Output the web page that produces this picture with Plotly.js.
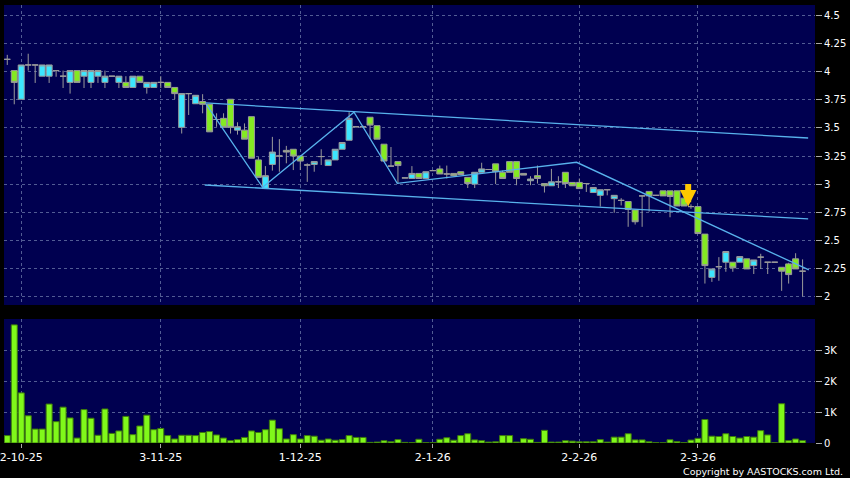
<!DOCTYPE html>
<html>
<head>
<meta charset="utf-8">
<script src="https://cdn.plot.ly/plotly-3.0.1.min.js"></script>
<style>
  html, body { margin: 0; padding: 0; background: #000000; }
  #chart { width: 850px; height: 478px; }
</style>
</head>
<body>
<div id="chart"></div>
<script>
// ---- Data ----
const tickIndex  = [2, 22, 42, 61, 82, 99];
const tickLabels = ['2-10-25', '3-11-25', '1-12-25', '2-1-26', '2-2-26', '2-3-26'];

const openP = [
  4.11, 4.01, 3.755, 4.06, 4.06, 3.96, 3.96, 4.01, 3.96, 3.905,
  4.01, 3.96, 3.905, 3.96, 3.905, 3.96, 3.905, 3.905, 3.86, 3.96,
  3.86, 3.86, 3.905, 3.905, 3.86, 3.505, 3.805, 3.715, 3.735, 3.71,
  3.575, 3.585, 3.755, 3.48, 3.48, 3.60, 3.215, 2.96, 3.175, 3.25,
  3.30, 3.31, 3.25, 3.17, 3.175, 3.245, 3.165, 3.215, 3.31, 3.39,
  3.51, 3.51, 3.595, 3.52, 3.355, 3.16, 3.20, 3.055, 3.05, 3.095,
  3.05, 3.12, 3.135, 3.09, 3.095, 3.11, 3.06, 3.0, 3.105, 3.13,
  3.18, 3.105, 3.20, 3.20, 3.095, 3.03, 3.075, 3.005, 2.985, 3.02,
  3.105, 3.015, 3.015, 3.005, 2.925, 2.90, 2.95, 2.87, 2.855, 2.845,
  2.77, 2.895, 2.935, 2.90, 2.94, 2.94, 2.94, 2.875, 2.80, 2.80,
  2.555, 2.17, 2.265, 2.305, 2.305, 2.305, 2.335, 2.275, 2.35, 2.305,
  2.305, 2.26, 2.29, 2.335, 2.225
];
const highP = [
  4.15, 4.01, 4.06, 4.16, 4.06, 4.06, 4.06, 4.01, 4.01, 4.01,
  4.01, 4.01, 4.01, 4.01, 4.01, 3.96, 3.96, 3.96, 3.96, 3.96,
  3.905, 3.905, 3.96, 3.905, 3.86, 3.805, 3.805, 3.79, 3.80, 3.71,
  3.63, 3.63, 3.755, 3.55, 3.54, 3.60, 3.24, 3.16, 3.42, 3.40,
  3.34, 3.31, 3.25, 3.185, 3.20, 3.31, 3.215, 3.31, 3.37, 3.64,
  3.51, 3.52, 3.595, 3.52, 3.355, 3.33, 3.20, 3.055, 3.16, 3.095,
  3.11, 3.12, 3.165, 3.165, 3.095, 3.11, 3.06, 3.105, 3.19, 3.13,
  3.18, 3.12, 3.20, 3.20, 3.095, 3.07, 3.165, 3.005, 3.135, 3.07,
  3.105, 3.015, 3.05, 3.005, 2.97, 2.95, 2.95, 2.90, 2.875, 2.845,
  2.77, 2.895, 2.935, 2.90, 2.94, 2.94, 2.94, 2.875, 2.82, 2.80,
  2.555, 2.245, 2.35, 2.40, 2.305, 2.355, 2.335, 2.325, 2.38, 2.305,
  2.305, 2.26, 2.30, 2.385, 2.33
];
const lowP = [
  4.06, 3.71, 3.755, 4.01, 3.90, 3.96, 3.90, 3.955, 3.855, 3.805,
  3.905, 3.855, 3.855, 3.90, 3.855, 3.96, 3.855, 3.86, 3.86, 3.905,
  3.805, 3.86, 3.855, 3.86, 3.755, 3.45, 3.615, 3.715, 3.63, 3.465,
  3.51, 3.505, 3.45, 3.44, 3.40, 3.23, 3.06, 2.96, 3.12, 3.11,
  3.185, 3.125, 3.125, 3.02, 3.11, 3.17, 3.165, 3.215, 3.31, 3.39,
  3.51, 3.50, 3.40, 3.40, 3.20, 3.16, 3.005, 3.055, 3.05, 3.05,
  3.05, 3.12, 3.09, 3.05, 3.075, 3.085, 2.965, 2.965, 3.105, 3.13,
  3.0, 3.05, 3.105, 2.99, 3.08, 2.99, 3.005, 2.925, 2.985, 2.965,
  2.965, 2.985, 2.96, 2.93, 2.925, 2.80, 2.90, 2.745, 2.81, 2.62,
  2.64, 2.62, 2.755, 2.90, 2.895, 2.705, 2.805, 2.805, 2.78, 2.56,
  2.115, 2.13, 2.14, 2.22, 2.22, 2.305, 2.245, 2.20, 2.245, 2.20,
  2.305, 2.05, 2.115, 2.245, 2.0
];
const closeP = [
  4.11, 3.905, 4.06, 4.06, 4.06, 4.06, 4.06, 4.01, 3.96, 4.01,
  3.905, 4.01, 4.01, 4.01, 3.96, 3.96, 3.96, 3.86, 3.96, 3.905,
  3.905, 3.905, 3.905, 3.86, 3.805, 3.805, 3.805, 3.79, 3.71, 3.465,
  3.575, 3.505, 3.505, 3.51, 3.40, 3.23, 3.06, 3.075, 3.285, 3.25,
  3.285, 3.25, 3.205, 3.17, 3.20, 3.245, 3.215, 3.31, 3.37, 3.585,
  3.51, 3.51, 3.525, 3.40, 3.205, 3.16, 3.165, 3.055, 3.095, 3.05,
  3.11, 3.12, 3.09, 3.09, 3.075, 3.085, 3.005, 3.105, 3.135, 3.13,
  3.11, 3.05, 3.105, 3.05, 3.08, 3.045, 3.05, 2.985, 3.02, 3.02,
  3.005, 2.985, 2.96, 3.005, 2.97, 2.95, 2.95, 2.90, 2.855, 2.775,
  2.665, 2.895, 2.895, 2.90, 2.895, 2.89, 2.805, 2.805, 2.80, 2.56,
  2.275, 2.245, 2.265, 2.40, 2.255, 2.355, 2.245, 2.325, 2.35, 2.305,
  2.305, 2.225, 2.195, 2.245, 2.225
];
const volume = [
  240, 3820, 1620, 880, 450, 450, 1260, 690, 1160, 810,
  160, 1080, 800, 250, 1100, 310, 390, 860, 270, 550,
  900, 430, 470, 240, 130, 250, 250, 240, 340, 370,
  260, 160, 75, 110, 180, 390, 340, 430, 740, 460,
  130, 270, 130, 240, 220, 90, 130, 90, 110, 240,
  180, 180, 20, 30, 75, 40, 110, 20, 10, 120,
  10, 10, 120, 170, 90, 240, 300, 100, 75, 30,
  40, 240, 240, 30, 140, 120, 20, 410, 30, 30,
  75, 60, 40, 40, 40, 110, 30, 190, 190, 300,
  100, 100, 40, 10, 5, 105, 45, 10, 95, 150,
  760, 220, 210, 300, 210, 160, 210, 190, 400, 260,
  5, 1270, 75, 130, 75
];

// trend lines (x in trading-day positions, y in price)
const channelTopX = [28.4, 114.8];
const channelTopY = [3.722, 3.410];
const channelLowX = [28.3, 114.8];
const channelLowY = [2.992, 2.690];
const zigzagX = [28.5, 36.6, 49.7, 55.9, 81.6, 114.9];
const zigzagY = [3.712, 2.971, 3.639, 3.007, 3.194, 2.236];

const priceTicks = [2, 2.25, 2.5, 2.75, 3, 3.25, 3.5, 3.75, 4, 4.25, 4.5];
const priceTickText = ['2', '2.25', '2.5', '2.75', '3', '3.25', '3.5', '3.75', '4', '4.25', '4.5'];
const volTicks = [0, 1000, 2000, 3000];
const volTickText = ['0', '1K', '2K', '3K'];

const signalIndex = 97.6;
const signalPrice = 2.80;

// ---- Chart ----
const xs = openP.map((_, i) => i);
const FONT = 'DejaVu Sans, Verdana, sans-serif';
const GRID = '#525c94';
const LINE_BLUE = '#58b2ec';

const traces = [
  {
    type: 'candlestick', x: xs, open: openP, high: highP, low: lowP, close: closeP,
    xaxis: 'x', yaxis: 'y',
    increasing: { line: { color: '#9a9a9a', width: 1 }, fillcolor: '#3ce6ff' },
    decreasing: { line: { color: '#9a9a9a', width: 1 }, fillcolor: '#84ea22' },
    whiskerwidth: 0, hoverinfo: 'skip', showlegend: false
  },
  {
    type: 'scatter', mode: 'lines', x: channelTopX, y: channelTopY, xaxis: 'x', yaxis: 'y',
    line: { color: LINE_BLUE, width: 1.3 }, hoverinfo: 'skip', showlegend: false
  },
  {
    type: 'scatter', mode: 'lines', x: channelLowX, y: channelLowY, xaxis: 'x', yaxis: 'y',
    line: { color: LINE_BLUE, width: 1.3 }, hoverinfo: 'skip', showlegend: false
  },
  {
    type: 'scatter', mode: 'lines', x: zigzagX, y: zigzagY, xaxis: 'x', yaxis: 'y',
    line: { color: LINE_BLUE, width: 1.3 }, hoverinfo: 'skip', showlegend: false
  },
  {
    type: 'bar', x: xs, y: volume, xaxis: 'x', yaxis: 'y2',
    marker: { color: '#80f81a', line: { color: '#3d7a0c', width: 1 } },
    hoverinfo: 'skip', showlegend: false
  }
];

const layout = {
  width: 850, height: 478,
  margin: { l: 4, r: 35, t: 5, b: 35, pad: 0 },
  paper_bgcolor: '#000000',
  plot_bgcolor: '#000050',
  showlegend: false,
  boxgap: 0.14,
  boxgroupgap: 0,
  bargap: 0.14,
  font: { family: FONT, color: '#ffffff', size: 11 },
  xaxis: {
    anchor: 'y2', range: [-0.47, 115.78],
    tickmode: 'array', tickvals: tickIndex, ticktext: tickLabels,
    ticks: 'outside', ticklen: 4, tickcolor: '#aaaaaa', tickwidth: 1,
    tickfont: { family: FONT, size: 11, color: '#ffffff' },
    ticklabeloverflow: 'allow',
    showgrid: true, gridcolor: GRID, griddash: '3px,3px', gridwidth: 1,
    zeroline: false, showline: false,
    rangeslider: { visible: false }, fixedrange: true
  },
  yaxis: {
    domain: [0.3151, 1], side: 'right', range: [1.9244, 4.5935],
    tickmode: 'array', tickvals: priceTicks, ticktext: priceTickText,
    ticks: 'outside', ticklen: 6, tickcolor: '#aaaaaa',
    tickfont: { family: FONT, size: 10, color: '#ffffff' },
    showgrid: true, gridcolor: GRID, griddash: '3px,3px',
    zeroline: false, showline: false, fixedrange: true
  },
  yaxis2: {
    domain: [0, 0.2831], side: 'right', range: [0, 4010],
    tickmode: 'array', tickvals: volTicks, ticktext: volTickText,
    ticks: 'outside', ticklen: 6, tickcolor: '#aaaaaa',
    tickfont: { family: FONT, size: 10, color: '#ffffff' },
    showgrid: true, gridcolor: GRID, griddash: '3px,3px',
    zeroline: false, showline: false, fixedrange: true
  },
  annotations: [
    {
      x: signalIndex, y: signalPrice, xref: 'x', yref: 'y',
      text: '', showarrow: true, ax: 0, ay: -24,
      arrowcolor: '#ffc800', arrowwidth: 6, arrowhead: 2, arrowsize: 0.55, standoff: 0
    },
    {
      xref: 'paper', yref: 'paper', x: 1.037, y: -0.064,
      xanchor: 'right', yanchor: 'middle', showarrow: false,
      text: 'Copyright by AASTOCKS.com Ltd.',
      font: { family: FONT, size: 9.5, color: '#ffffff' }
    }
  ]
};

Plotly.newPlot('chart', traces, layout, { staticPlot: true, displayModeBar: false });
</script>
</body>
</html>
